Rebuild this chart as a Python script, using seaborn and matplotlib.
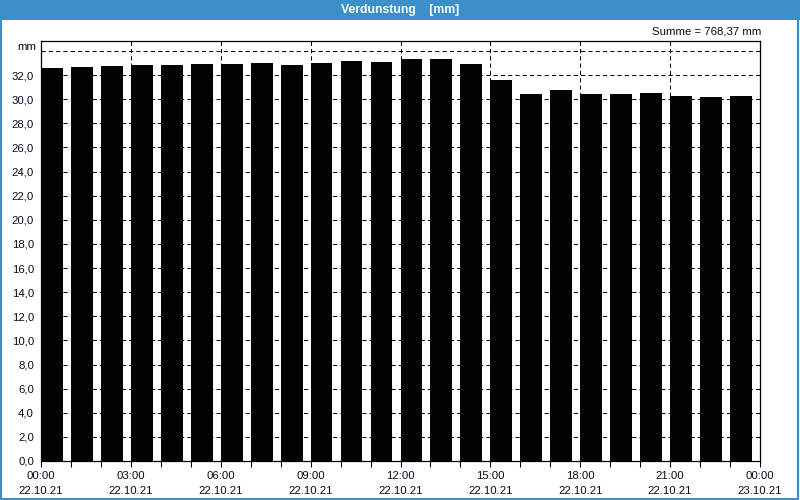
import numpy as np
import pandas as pd
import matplotlib
matplotlib.use("Agg")
import matplotlib.pyplot as plt
import seaborn as sns
from matplotlib.patches import Rectangle

# ---- data ----
hours = list(range(24))
values = [32.56, 32.64, 32.72, 32.80, 32.80, 32.89, 32.89, 32.97, 32.80, 32.97,
          33.14, 33.05, 33.30, 33.30, 32.89, 31.62, 30.46, 30.79, 30.46, 30.46,
          30.54, 30.29, 30.21, 30.29]
tick_hours = [0, 3, 6, 9, 12, 15, 18, 21, 24]
tick_times = ["00:00", "03:00", "06:00", "09:00", "12:00", "15:00", "18:00", "21:00", "00:00"]
tick_dates = ["22.10.21"] * 8 + ["23.10.21"]
y_ticks = list(range(0, 34, 2))
title = "Verdunstung    [mm]"
unit = "mm"
summe = "Summe = 768,37 mm"

BLUE = "#3d8fc7"
FONT = "Liberation Sans"

sns.set_style("white")
plt.rcParams["font.family"] = [FONT, "DejaVu Sans"]

fig = plt.figure(figsize=(8, 5), dpi=100)
fig.patch.set_facecolor("white")

# title bar + border
fig.patches.append(Rectangle((0, 0.96), 1, 0.04, transform=fig.transFigure,
                             facecolor=BLUE, edgecolor="none", zorder=0))
fig.patches.append(Rectangle((0.001, 0.002), 0.997, 0.996, transform=fig.transFigure,
                             facecolor="none", edgecolor=BLUE, linewidth=1.5, zorder=0))
fig.text(0.5, 0.98, title, color="white", fontsize=8.8, fontweight="bold",
         ha="center", va="center", family=[FONT, "DejaVu Sans"])

ax = fig.add_axes([41 / 800, 39 / 500, 719 / 800, 420 / 500])

bar_w = 0.73
df = pd.DataFrame({"pos": np.array(hours) + bar_w / 2, "val": values})
sns.barplot(data=df, x="pos", y="val", native_scale=True, width=bar_w,
            color="#030205", saturation=1, edgecolor="none", linewidth=0,
            ax=ax, zorder=2, errorbar=None)

ax.set_xlim(0, 24)
ax.set_ylim(0, 34.83)

# grid lines
for yv in list(range(2, 35, 2)):
    ax.axhline(yv, color="black", linewidth=0.75, linestyle=(0, (4, 3)), zorder=3)
for xv in tick_hours[1:-1]:
    ax.axvline(xv, color="black", linewidth=0.75, linestyle=(0, (4, 3)), zorder=3)

ax.set_yticks(y_ticks)
ax.set_yticklabels([f"{v:.1f}".replace(".", ",") for v in y_ticks])
ax.set_xticks(tick_hours)
ax.set_xticklabels([f"{t}\n{d}" for t, d in zip(tick_times, tick_dates)], linespacing=1.65)
ax.set_xticks(hours, minor=True)
ax.tick_params(axis="x", which="both", direction="out", length=4, width=0.75,
               labelsize=8.2, pad=3, bottom=True, color="black", labelcolor="#0a0a1e")
ax.tick_params(axis="y", direction="out", length=0, labelsize=8.2,
               pad=5, left=False, labelcolor="#0a0a1e")
ax.set_xlabel("")
ax.set_ylabel("")

for s in ax.spines.values():
    s.set_visible(True)
    s.set_color("black")
    s.set_linewidth(0.9)
    s.set_zorder(4)

fig.text(36 / 800, 1 - 47 / 500, unit, fontsize=8.2, ha="right", va="center", color="#0a0a1e")
fig.text(761 / 800, 1 - 32 / 500, summe, fontsize=8.2, ha="right", va="center", color="#0a0a1e")

fig.savefig("out.png", dpi=100)
